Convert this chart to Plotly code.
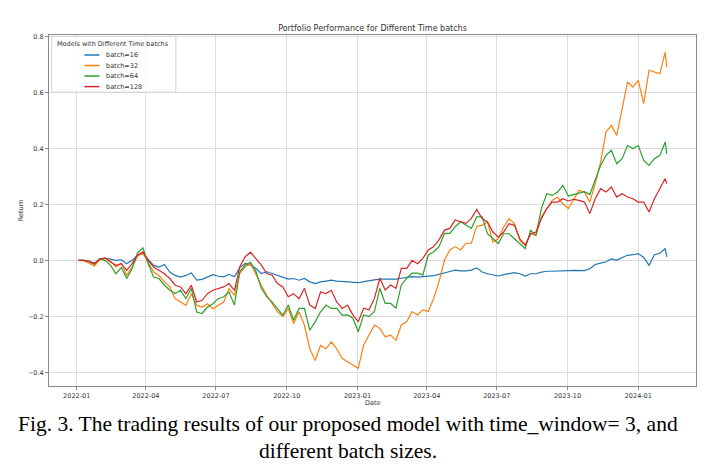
import pandas as pd
import plotly.graph_objects as go

# weekly samples, plus the last trading day
dates = list(pd.date_range("2022-01-03", periods=110, freq="7D")) + [pd.Timestamp("2024-02-07")]

batch_16 = [
    0, 0, -0.004, -0.01, 0.004, 0.008, 0.004, 0.0, 0.002, -0.012,
    0.0, 0.018, 0.024, 0.002, -0.018, -0.024, -0.015, -0.042, -0.054, -0.06,
    -0.054, -0.045, -0.071, -0.068, -0.06, -0.051, -0.057, -0.059, -0.05, -0.059,
    -0.026, -0.011, -0.017, -0.029, -0.047, -0.041, -0.047, -0.053, -0.059, -0.067,
    -0.065, -0.071, -0.065, -0.077, -0.083, -0.077, -0.074, -0.071, -0.074, -0.076,
    -0.076, -0.08, -0.08, -0.076, -0.074, -0.07, -0.067, -0.067, -0.068, -0.067,
    -0.064, -0.062, -0.058, -0.06, -0.058, -0.058, -0.055, -0.05, -0.046, -0.04,
    -0.035, -0.038, -0.038, -0.035, -0.027, -0.042, -0.048, -0.051, -0.056, -0.051,
    -0.048, -0.044, -0.048, -0.056, -0.048, -0.048, -0.042, -0.039, -0.039, -0.039,
    -0.038, -0.037, -0.036, -0.036, -0.037, -0.03, -0.015, -0.01, -0.005, 0.005,
    0.0, 0.01, 0.018, 0.02, 0.024, 0.01, -0.018, 0.02, 0.025, 0.042,
    0.012,
]
batch_32 = [
    0, -0.001, -0.01, -0.02, 0.002, 0.008, -0.002, -0.024, -0.01, -0.054,
    -0.024, 0.015, 0.026, -0.006, -0.042, -0.054, -0.077, -0.095, -0.137, -0.149,
    -0.161, -0.119, -0.161, -0.167, -0.155, -0.173, -0.16, -0.149, -0.101, -0.125,
    -0.047, -0.023, -0.011, -0.053, -0.089, -0.125, -0.155, -0.184, -0.2, -0.172,
    -0.226, -0.184, -0.232, -0.316, -0.358, -0.304, -0.316, -0.292, -0.316, -0.35,
    -0.362, -0.374, -0.386, -0.302, -0.267, -0.231, -0.243, -0.273, -0.267, -0.285,
    -0.231, -0.219, -0.183, -0.195, -0.177, -0.183, -0.136, -0.076, 0.0, 0.037,
    0.049, 0.037, 0.061, 0.061, 0.122, 0.125, 0.137, 0.065, 0.077, 0.119,
    0.149, 0.131, 0.071, 0.054, 0.095, 0.089, 0.155, 0.185, 0.214, 0.226,
    0.202, 0.185, 0.22, 0.25, 0.244, 0.208, 0.274, 0.351, 0.458, 0.482,
    0.446, 0.542, 0.637, 0.619, 0.643, 0.56, 0.679, 0.673, 0.667, 0.744,
    0.69,
]
batch_64 = [
    0, 0, -0.004, -0.014, 0.005, 0.0, -0.018, -0.048, -0.026, -0.065,
    -0.03, 0.026, 0.045, -0.012, -0.06, -0.065, -0.089, -0.107, -0.119, -0.107,
    -0.137, -0.1, -0.185, -0.19, -0.167, -0.155, -0.137, -0.13, -0.113, -0.16,
    -0.04, -0.017, -0.007, -0.04, -0.1, -0.13, -0.149, -0.172, -0.196, -0.16,
    -0.214, -0.172, -0.172, -0.25, -0.22, -0.184, -0.16, -0.172, -0.172, -0.196,
    -0.195, -0.207, -0.255, -0.195, -0.201, -0.183, -0.1, -0.154, -0.154, -0.171,
    -0.088, -0.064, -0.046, -0.046, -0.052, 0.019, 0.031, 0.049, 0.096, 0.096,
    0.12, 0.138, 0.126, 0.114, 0.155, 0.155, 0.095, 0.077, 0.06, 0.095,
    0.095, 0.077, 0.06, 0.042, 0.107, 0.089, 0.185, 0.238, 0.232, 0.244,
    0.268, 0.23, 0.235, 0.24, 0.245, 0.235, 0.29, 0.339, 0.375, 0.393,
    0.345, 0.363, 0.41, 0.399, 0.41, 0.357, 0.339, 0.363, 0.375, 0.423,
    0.38,
]
batch_128 = [
    0, 0, -0.004, -0.012, 0.005, 0.008, -0.006, -0.018, -0.012, -0.036,
    -0.012, 0.018, 0.03, 0.0, -0.024, -0.036, -0.048, -0.065, -0.089, -0.095,
    -0.119, -0.089, -0.149, -0.143, -0.119, -0.107, -0.1, -0.095, -0.083, -0.107,
    -0.023, 0.013, 0.029, 0.007, -0.017, -0.047, -0.053, -0.083, -0.095, -0.13,
    -0.119, -0.137, -0.1, -0.16, -0.172, -0.113, -0.119, -0.107, -0.149, -0.172,
    -0.16, -0.195, -0.219, -0.171, -0.177, -0.136, -0.064, -0.106, -0.088, -0.1,
    -0.029, -0.029, 0.0, -0.012, 0.007, 0.037, 0.049, 0.073, 0.108, 0.114,
    0.144, 0.138, 0.132, 0.15, 0.182, 0.149, 0.137, 0.101, 0.083, 0.101,
    0.131, 0.125, 0.077, 0.054, 0.095, 0.101, 0.149, 0.185, 0.208, 0.208,
    0.22, 0.212, 0.218, 0.214, 0.208, 0.167, 0.22, 0.256, 0.244, 0.262,
    0.226, 0.238, 0.226, 0.22, 0.208, 0.208, 0.173, 0.22, 0.256, 0.292,
    0.274,
]

names = ["batch=16", "batch=32", "batch=64", "batch=128"]
series = [batch_16, batch_32, batch_64, batch_128]
colors = ["#1f77b4", "#ff7f0e", "#2ca02c", "#d62728"]

fig = go.Figure()
for name, vals, col in zip(names, series, colors):
    fig.add_trace(go.Scatter(x=dates, y=vals, mode="lines", name=name,
                             line=dict(color=col, width=1.2), showlegend=False))

axis_font = dict(family="DejaVu Sans", size=6.5, color="#333")
fig.update_xaxes(range=["2021-11-26", "2024-03-16"], dtick="M3", tick0="2022-01-01",
                 tickformat="%Y-%m", showgrid=True, gridcolor="#dcdcdc", gridwidth=1,
                 showline=True, mirror=True, linecolor="#8a8a8a", linewidth=1,
                 ticks="outside", ticklen=3, tickcolor="#8a8a8a", tickfont=axis_font,
                 zeroline=False)
fig.update_yaxes(range=[-0.449, 0.805], dtick=0.2, tick0=0, tickformat=".1f",
                 showgrid=True, gridcolor="#dcdcdc", gridwidth=1,
                 showline=True, mirror=True, linecolor="#8a8a8a", linewidth=1,
                 ticks="outside", ticklen=3, tickcolor="#8a8a8a", tickfont=axis_font,
                 zeroline=False)

# hand-made legend box (matplotlib style, compact rows)
fig.add_shape(type="rect", xref="paper", yref="paper", x0=0.0042, x1=0.196, y0=0.837, y1=0.996,
              fillcolor="rgba(255,255,255,0.85)", line=dict(color="#d0d0d0", width=1))
fig.add_annotation(text="Models with Different Time batchs", xref="paper", yref="paper",
                   x=0.099, y=0.9735, xanchor="center", yanchor="middle",
                   showarrow=False, font=axis_font)
row_y = [0.943, 0.913, 0.883, 0.853]
for name, col, ry in zip(names, colors, row_y):
    fig.add_shape(type="line", xref="paper", yref="paper", x0=0.0548, x1=0.078, y0=ry, y1=ry,
                  line=dict(color=col, width=1.5))
    fig.add_annotation(text=name, xref="paper", yref="paper", x=0.085, y=ry,
                       xanchor="left", yanchor="middle", showarrow=False, font=axis_font)

fig.add_annotation(text="Date", xref="paper", yref="paper", x=0.5, y=-0.049,
                   xanchor="center", yanchor="middle", showarrow=False, font=axis_font)
fig.add_annotation(text="Return", xref="paper", yref="paper", x=-0.0438, y=0.5,
                   xanchor="center", yanchor="middle", textangle=-90,
                   showarrow=False, font=axis_font)

cap_font = dict(family="Liberation Serif", size=21.5, color="black")
fig.add_annotation(text="Fig. 3. The trading results of our proposed model with time_window= 3, and",
                   xref="paper", yref="paper", x=0.462, y=-0.109, xanchor="center",
                   yanchor="middle", showarrow=False, font=cap_font)
fig.add_annotation(text="different batch sizes.", xref="paper", yref="paper",
                   x=0.462, y=-0.186, xanchor="center", yanchor="middle",
                   showarrow=False, font=cap_font)

fig.update_layout(
    width=716, height=466,
    margin=dict(l=41, r=28, t=27, b=88),
    paper_bgcolor="white", plot_bgcolor="white",
    title=dict(text="Portfolio Performance for Different Time batchs", x=0.5, xref="paper",
               y=1 - 20 / 466, yanchor="middle", font=dict(family="DejaVu Sans", size=8, color="#333")),
)

fig.write_html("out.html")
